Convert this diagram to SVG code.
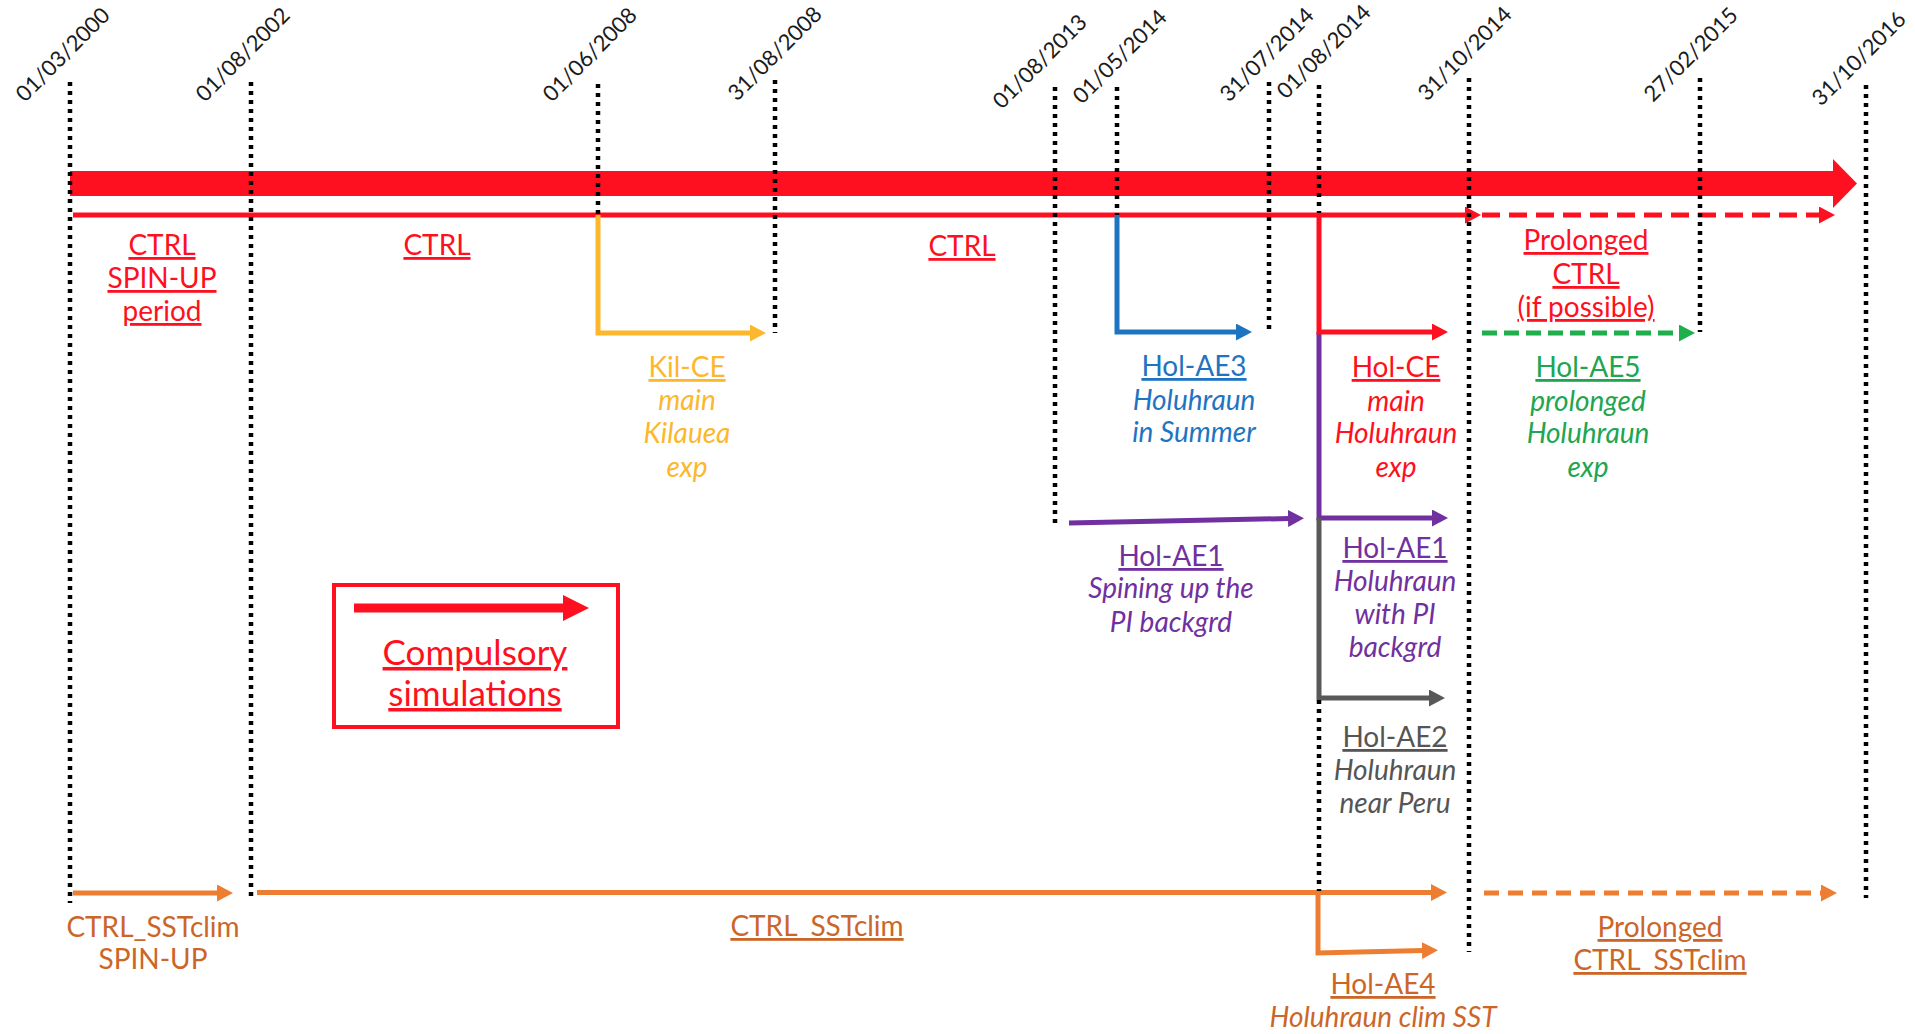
<svg xmlns="http://www.w3.org/2000/svg" width="1915" height="1034" viewBox="0 0 1915 1034">
<style>
text{font-family:Lato,"Liberation Sans",sans-serif;font-size:28px;text-anchor:middle}
.date{font-size:22px;fill:#1a1a1a;text-anchor:start}
.u{text-decoration:underline}
.i{font-style:italic}
.red{fill:#FF1020}.yel{fill:#FDB72C}.blu{fill:#1F74C2}.grn{fill:#20A550}.pur{fill:#7030A0}.gry{fill:#555555}.org{fill:#CC6628}
.ln{fill:none;stroke-width:5;stroke-linejoin:miter}
.dot{fill:none;stroke:#000;stroke-width:4.5;stroke-dasharray:4 5}
</style>
<defs>
<marker id="ah-red" viewBox="0 0 16 17" refX="1" refY="8.5" markerWidth="16" markerHeight="17" markerUnits="userSpaceOnUse" orient="auto"><path d="M0,0L16,8.5L0,17z" fill="#FF1020"/></marker>
<marker id="ah-yel" viewBox="0 0 16 17" refX="1" refY="8.5" markerWidth="16" markerHeight="17" markerUnits="userSpaceOnUse" orient="auto"><path d="M0,0L16,8.5L0,17z" fill="#FDB72C"/></marker>
<marker id="ah-blu" viewBox="0 0 16 17" refX="1" refY="8.5" markerWidth="16" markerHeight="17" markerUnits="userSpaceOnUse" orient="auto"><path d="M0,0L16,8.5L0,17z" fill="#1F74C2"/></marker>
<marker id="ah-grn" viewBox="0 0 16 17" refX="1" refY="8.5" markerWidth="16" markerHeight="17" markerUnits="userSpaceOnUse" orient="auto"><path d="M0,0L16,8.5L0,17z" fill="#1EAF4C"/></marker>
<marker id="ah-pur" viewBox="0 0 16 17" refX="1" refY="8.5" markerWidth="16" markerHeight="17" markerUnits="userSpaceOnUse" orient="auto"><path d="M0,0L16,8.5L0,17z" fill="#7030A0"/></marker>
<marker id="ah-gry" viewBox="0 0 16 17" refX="1" refY="8.5" markerWidth="16" markerHeight="17" markerUnits="userSpaceOnUse" orient="auto"><path d="M0,0L16,8.5L0,17z" fill="#595959"/></marker>
<marker id="ah-org" viewBox="0 0 16 17" refX="1" refY="8.5" markerWidth="16" markerHeight="17" markerUnits="userSpaceOnUse" orient="auto"><path d="M0,0L16,8.5L0,17z" fill="#ED7D31"/></marker>
</defs>
<rect width="1915" height="1034" fill="#fff"/>

<g id="compulsory-bar">
<polygon points="70,171 1833,171 1833,159 1857,183.5 1833,208 1833,196 70,196" fill="#FF1020"/>
</g>

<g id="connectors">
<path class="ln" stroke="#FF1020" d="M73,215H1466" marker-end="url(#ah-red)"/>
<path class="ln" stroke="#FF1020" stroke-dasharray="18 9" d="M1482,215H1820" marker-end="url(#ah-red)"/>
<path class="ln" stroke="#FDB72C" d="M598,215V333H751" marker-end="url(#ah-yel)"/>
<path class="ln" stroke="#1F74C2" d="M1117,215V332H1237" marker-end="url(#ah-blu)"/>
<path class="ln" stroke="#1EAF4C" stroke-width="6" stroke-dasharray="15 7" d="M1482,333H1680" marker-end="url(#ah-grn)"/>
<path class="ln" stroke="#7030A0" d="M1319,332V518H1433" marker-end="url(#ah-pur)"/>
<path class="ln" stroke="#595959" d="M1319,518V698H1430" marker-end="url(#ah-gry)"/>
<path class="ln" stroke="#FF1020" d="M1319,215V332H1433" marker-end="url(#ah-red)"/>
<path class="ln" stroke="#7030A0" d="M1069,523L1289,518.5" marker-end="url(#ah-pur)"/>
<path class="ln" stroke="#ED7D31" d="M73,893H218" marker-end="url(#ah-org)"/>
<path class="ln" stroke="#ED7D31" d="M257,892.5H1432" marker-end="url(#ah-org)"/>
<path class="ln" stroke="#ED7D31" stroke-dasharray="15 9" d="M1484,893H1822" marker-end="url(#ah-org)"/>
<path class="ln" stroke="#ED7D31" d="M1318,893V953L1423,950.5" marker-end="url(#ah-org)"/>
</g>

<g id="timeline-dates">
<path class="dot" d="M70,82V903"/>
<path class="dot" d="M251,82V897"/>
<path class="dot" d="M598,84V215"/>
<path class="dot" d="M775,80V333"/>
<path class="dot" d="M1055,87V527"/>
<path class="dot" d="M1117,87V215"/>
<path class="dot" d="M1269,82V333"/>
<path class="dot" d="M1319,85V213M1319,700V891"/>
<path class="dot" d="M1469,78V952"/>
<path class="dot" d="M1700,78V332"/>
<path class="dot" d="M1866,85V898"/>
<text class="date" x="25" y="103" transform="rotate(-45 25 103)">01/03/2000</text>
<text class="date" x="205" y="103" transform="rotate(-45 205 103)">01/08/2002</text>
<text class="date" x="552" y="103" transform="rotate(-45 552 103)">01/06/2008</text>
<text class="date" x="737" y="102" transform="rotate(-45 737 102)">31/08/2008</text>
<text class="date" x="1002" y="110" transform="rotate(-45 1002 110)">01/08/2013</text>
<text class="date" x="1082" y="105" transform="rotate(-45 1082 105)">01/05/2014</text>
<text class="date" x="1229" y="103" transform="rotate(-45 1229 103)">31/07/2014</text>
<text class="date" x="1286" y="100" transform="rotate(-45 1286 100)">01/08/2014</text>
<text class="date" x="1427" y="102" transform="rotate(-45 1427 102)">31/10/2014</text>
<text class="date" x="1653" y="103" transform="rotate(-45 1653 103)">27/02/2015</text>
<text class="date" x="1821" y="107" transform="rotate(-45 1821 107)">31/10/2016</text>
</g>

<g id="node-ctrl-spinup">
<text class="red u" x="162" y="255">CTRL</text>
<text class="red u" x="162" y="288">SPIN-UP</text>
<text class="red u" x="162" y="321">period</text>
</g>
<g id="node-ctrl-1"><text class="red u" x="437" y="255">CTRL</text></g>
<g id="node-ctrl-2"><text class="red u" x="962" y="256">CTRL</text></g>
<g id="node-prolonged-ctrl">
<text class="red u" x="1586" y="250">Prolonged</text>
<text class="red u" x="1586" y="284">CTRL</text>
<text class="red u" x="1586" y="317">(if possible)</text>
</g>
<g id="node-kil-ce">
<text class="yel u" x="687" y="377">Kil-CE</text>
<text class="yel i" x="687" y="410">main</text>
<text class="yel i" x="687" y="443">Kilauea</text>
<text class="yel i" x="687" y="477">exp</text>
</g>
<g id="node-hol-ae3">
<text class="blu u" x="1194" y="376">Hol-AE3</text>
<text class="blu i" x="1194" y="410">Holuhraun</text>
<text class="blu i" x="1194" y="442">in Summer</text>
</g>
<g id="node-hol-ce">
<text class="red u" x="1396" y="377">Hol-CE</text>
<text class="red i" x="1396" y="411">main</text>
<text class="red i" x="1396" y="443">Holuhraun</text>
<text class="red i" x="1396" y="477">exp</text>
</g>
<g id="node-hol-ae5">
<text class="grn u" x="1588" y="377">Hol-AE5</text>
<text class="grn i" x="1588" y="411">prolonged</text>
<text class="grn i" x="1588" y="443">Holuhraun</text>
<text class="grn i" x="1588" y="477">exp</text>
</g>
<g id="node-hol-ae1-spinup">
<text class="pur u" x="1171" y="566">Hol-AE1</text>
<text class="pur i" x="1171" y="598">Spining up the</text>
<text class="pur i" x="1171" y="632">PI backgrd</text>
</g>
<g id="node-hol-ae1">
<text class="pur u" x="1395" y="558">Hol-AE1</text>
<text class="pur i" x="1395" y="591">Holuhraun</text>
<text class="pur i" x="1395" y="624">with PI</text>
<text class="pur i" x="1395" y="657">backgrd</text>
</g>
<g id="node-hol-ae2">
<text class="gry u" x="1395" y="747">Hol-AE2</text>
<text class="gry i" x="1395" y="780">Holuhraun</text>
<text class="gry i" x="1395" y="813">near Peru</text>
</g>
<g id="node-ctrl-sstclim-spinup">
<text class="org" x="153" y="937">CTRL_SSTclim</text>
<text class="org" x="153" y="969">SPIN-UP</text>
</g>
<g id="node-ctrl-sstclim"><text class="org u" x="817" y="936">CTRL_SSTclim</text></g>
<g id="node-prolonged-sstclim">
<text class="org u" x="1660" y="937">Prolonged</text>
<text class="org u" x="1660" y="970">CTRL_SSTclim</text>
</g>
<g id="node-hol-ae4">
<text class="org u" x="1383" y="994">Hol-AE4</text>
<text class="org i" x="1383" y="1027">Holuhraun clim SST</text>
</g>

<g id="node-legend">
<rect x="334" y="585" width="284" height="142" fill="none" stroke="#FF1020" stroke-width="4"/>
<polygon points="354,603.5 563,603.5 563,595 589,608 563,621 563,612.5 354,612.5" fill="#FF1020"/>
<text class="red u" x="475" y="665" style="font-size:35px">Compulsory</text>
<text class="red u" x="475" y="706" style="font-size:35px">simulations</text>
</g>
</svg>
